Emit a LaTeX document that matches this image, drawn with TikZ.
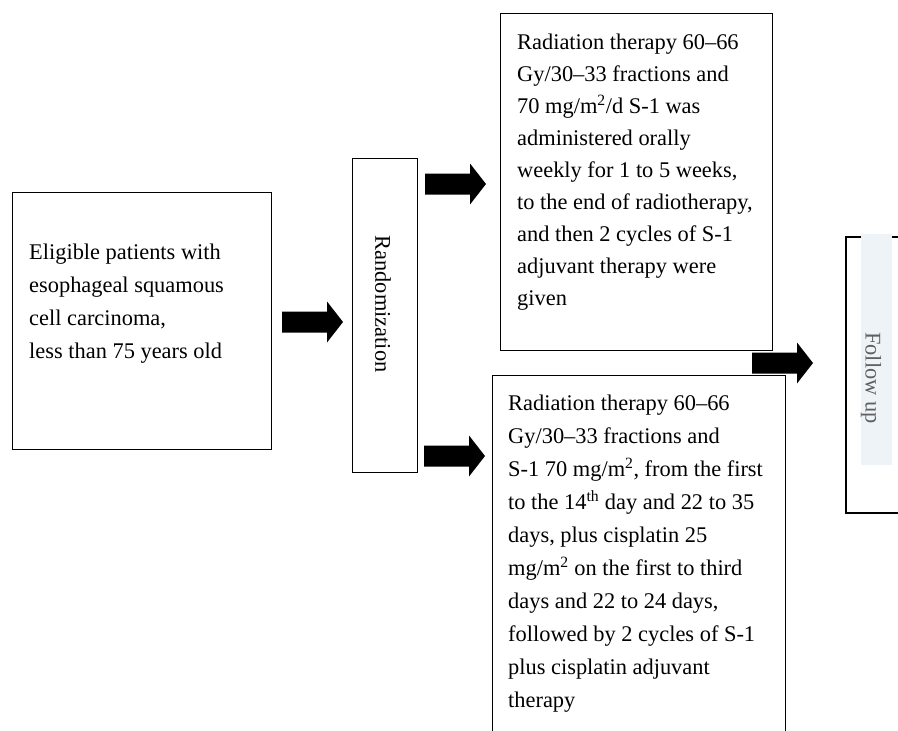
\documentclass[tikz,border=0pt]{standalone}
\usepackage{fontspec}
\setmainfont{Liberation Serif}
\definecolor{fubg}{HTML}{EEF3F8}
\definecolor{futext}{HTML}{606060}
\begin{document}
\begin{tikzpicture}[x=1pt,y=-1pt,
  box/.style={draw=black, line width=1.2pt, inner sep=0pt, anchor=north west},
  txt/.style={anchor=base west, align=left, inner sep=0pt, font=\fontsize{22.4}{33}\selectfont},
  vtxt/.style={rotate=-90, inner sep=0pt, font=\fontsize{22.4}{33}\selectfont},
  barrow/.pic={\fill[black] (0,-10.5) -- (45,-10.5) -- (45,-20.5) -- (61,0) -- (45,20.5) -- (45,10.5) -- (0,10.5) -- cycle;}]
\useasboundingbox (0,0) rectangle (898,731);
\clip (0,0) rectangle (898,731);
% boxes
\node[box, minimum width=259pt, minimum height=257pt] (elig) at (12,192) {};
\node[box, minimum width=65pt, minimum height=314pt] (rand) at (352,158) {};
\node[box, minimum width=272pt, minimum height=337pt] (top) at (500,13) {};
\node[box, minimum width=293pt, minimum height=380pt] (bot) at (492,375) {};
% follow up
\node[box, line width=1.8pt, minimum width=80pt, minimum height=276pt] (fubox) at (845,236) {};
\fill[fubg] (861,234) rectangle (892,465);
% texts (base anchor = baseline of the last line)
\node[txt] (eligtxt) at (29,358) {Eligible patients with\\esophageal squamous\\cell carcinoma,\\less than 75 years old};
\node[vtxt] (randtxt) at (383,304) {Randomization};
\node[txt, font=\fontsize{22.4}{32}\selectfont] (toptxt) at (517,305) {Radiation therapy 60--66\\Gy/30--33 fractions and\\70 mg/m\textsuperscript{2}/d S-1 was\\administered orally\\weekly for 1 to 5 weeks,\\to the end of radiotherapy,\\and then 2 cycles of S-1\\adjuvant therapy were\\given};
\node[txt] (bottxt) at (508,707) {Radiation therapy 60--66\\Gy/30--33 fractions and\\S-1 70 mg/m\textsuperscript{2}, from the first\\to the 14\textsuperscript{th} day and 22 to 35\\days, plus cisplatin 25\\mg/m\textsuperscript{2} on the first to third\\days and 22 to 24 days,\\followed by 2 cycles of S-1\\plus cisplatin adjuvant\\therapy};
\node[vtxt, text=futext] (futxt) at (871,378) {Follow up};
% block arrows
\pic at (282,322) {barrow};
\pic at (425,184) {barrow};
\pic at (424,456) {barrow};
\pic at (752,363) {barrow};
\end{tikzpicture}
\end{document}
